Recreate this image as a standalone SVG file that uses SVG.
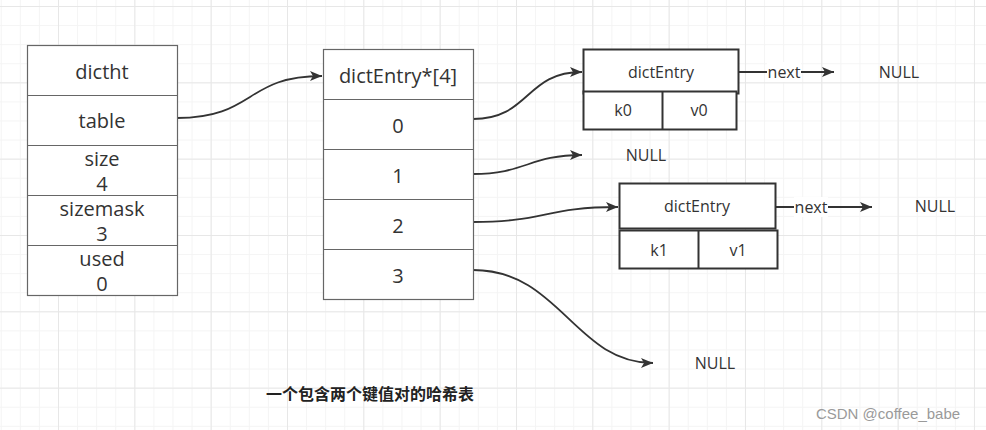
<svg xmlns="http://www.w3.org/2000/svg" width="986" height="430" viewBox="0 0 986 430">
<style>
.t{font-family:"Open Sans","Noto Sans",sans-serif;fill:#333;text-anchor:middle;dominant-baseline:central}
.big{font-size:20px}
.sm{font-size:16px}
.box{fill:#fff;stroke:#666;stroke-width:1.2}
.ent{fill:#fff;stroke:#333;stroke-width:2}
.edge{fill:none;stroke:#333;stroke-width:1.8;marker-end:url(#arr)}
.cap{font-family:"Noto Sans CJK SC","Noto Sans",sans-serif;font-size:16px;font-weight:bold;fill:#222;dominant-baseline:central}
</style>
<defs>
<pattern id="minor" patternUnits="userSpaceOnUse" x="0.75" y="6" width="19.083" height="19.083">
<rect x="0" y="0" width="19.083" height="1" fill="#f4f4f4"/>
<rect x="0" y="0" width="1" height="19.083" fill="#f4f4f4"/>
</pattern>
<pattern id="major" patternUnits="userSpaceOnUse" x="58" y="6" width="76.33" height="76.33">
<rect x="0" y="0" width="76.33" height="1" fill="#e7e7e7"/>
<rect x="0" y="0" width="1" height="76.33" fill="#e7e7e7"/>
</pattern>
<marker id="arr" markerUnits="userSpaceOnUse" markerWidth="14" markerHeight="12" refX="12" refY="5" orient="auto">
<path d="M0,0 L12,5 L0,10 L3,5 z" fill="#333"/>
</marker>
</defs>
<rect width="986" height="430" fill="#fff"/>
<rect width="986" height="430" fill="url(#minor)"/>
<rect width="986" height="430" fill="url(#major)"/>

<g id="edges">
<path class="edge" d="M177,118 C255,118 245,76 322,76"/>
<path class="edge" d="M473,119 C530,119 525,72 582,72"/>
<path class="edge" d="M473,174 C525,174 530,155 582,155"/>
<path class="edge" d="M473,222 C545,222 545,207 618,207"/>
<path class="edge" d="M473,270 C560,270 575,363 653,363"/>
<path class="edge" d="M739,72 L834,72"/>
<path class="edge" d="M776,207 L872,207"/>
<rect x="767" y="62" width="34" height="20" fill="#fff"/>
<text class="t sm" x="784" y="72">next</text>
<rect x="794" y="197" width="34" height="20" fill="#fff"/>
<text class="t sm" x="811" y="207">next</text>
</g>

<g id="dictht">
<rect class="box" x="27.5" y="45.5" width="150" height="250"/>
<line x1="27.5" y1="95.5" x2="177.5" y2="95.5" stroke="#666" stroke-width="1.2"/>
<line x1="27.5" y1="145.5" x2="177.5" y2="145.5" stroke="#666" stroke-width="1.2"/>
<line x1="27.5" y1="195.5" x2="177.5" y2="195.5" stroke="#666" stroke-width="1.2"/>
<line x1="27.5" y1="245.5" x2="177.5" y2="245.5" stroke="#666" stroke-width="1.2"/>
<text class="t big" x="102" y="71">dictht</text>
<text class="t big" x="102" y="120">table</text>
<text class="t big" x="102" y="158">size</text>
<text class="t big" x="102" y="183">4</text>
<text class="t big" x="102" y="208">sizemask</text>
<text class="t big" x="102" y="233">3</text>
<text class="t big" x="102" y="258">used</text>
<text class="t big" x="102" y="283">0</text>
</g>

<g id="table">
<rect class="box" x="323.5" y="49.5" width="150" height="250"/>
<line x1="323.5" y1="99.5" x2="473.5" y2="99.5" stroke="#666" stroke-width="1.2"/>
<line x1="323.5" y1="149.5" x2="473.5" y2="149.5" stroke="#666" stroke-width="1.2"/>
<line x1="323.5" y1="199.5" x2="473.5" y2="199.5" stroke="#666" stroke-width="1.2"/>
<line x1="323.5" y1="249.5" x2="473.5" y2="249.5" stroke="#666" stroke-width="1.2"/>
<text class="t big" x="398" y="75">dictEntry*[4]</text>
<text class="t big" x="398" y="125">0</text>
<text class="t big" x="398" y="175">1</text>
<text class="t big" x="398" y="225">2</text>
<text class="t big" x="398" y="275">3</text>
</g>

<g id="entry0">
<rect class="ent" x="583.5" y="49.5" width="155" height="44"/>
<rect class="ent" x="583.5" y="91.5" width="153" height="38"/>
<line x1="662.5" y1="91.5" x2="662.5" y2="129.5" stroke="#333" stroke-width="2"/>
<text class="t sm" x="661" y="72">dictEntry</text>
<text class="t sm" x="623" y="110">k0</text>
<text class="t sm" x="699" y="110">v0</text>
</g>

<g id="entry1">
<rect class="ent" x="619.5" y="183.5" width="156" height="45"/>
<rect class="ent" x="619.5" y="230.5" width="158" height="38"/>
<line x1="698.5" y1="230.5" x2="698.5" y2="268.5" stroke="#333" stroke-width="2"/>
<text class="t sm" x="697" y="206">dictEntry</text>
<text class="t sm" x="659" y="250">k1</text>
<text class="t sm" x="738" y="250">v1</text>
</g>

<g id="null0"><text class="t sm" x="899" y="72">NULL</text></g>
<g id="null1"><text class="t sm" x="646" y="155">NULL</text></g>
<g id="null2"><text class="t sm" x="935" y="206">NULL</text></g>
<g id="null3"><text class="t sm" x="715" y="363">NULL</text></g>

<g id="caption"><text class="cap" x="266" y="393">一个包含两个键值对的哈希表</text></g>
<g id="watermark"><text x="888" y="413" font-family="'Liberation Sans',Arial,sans-serif" font-size="15" fill="#9a9a9a" text-anchor="middle" dominant-baseline="central">CSDN @coffee_babe</text></g>
</svg>
